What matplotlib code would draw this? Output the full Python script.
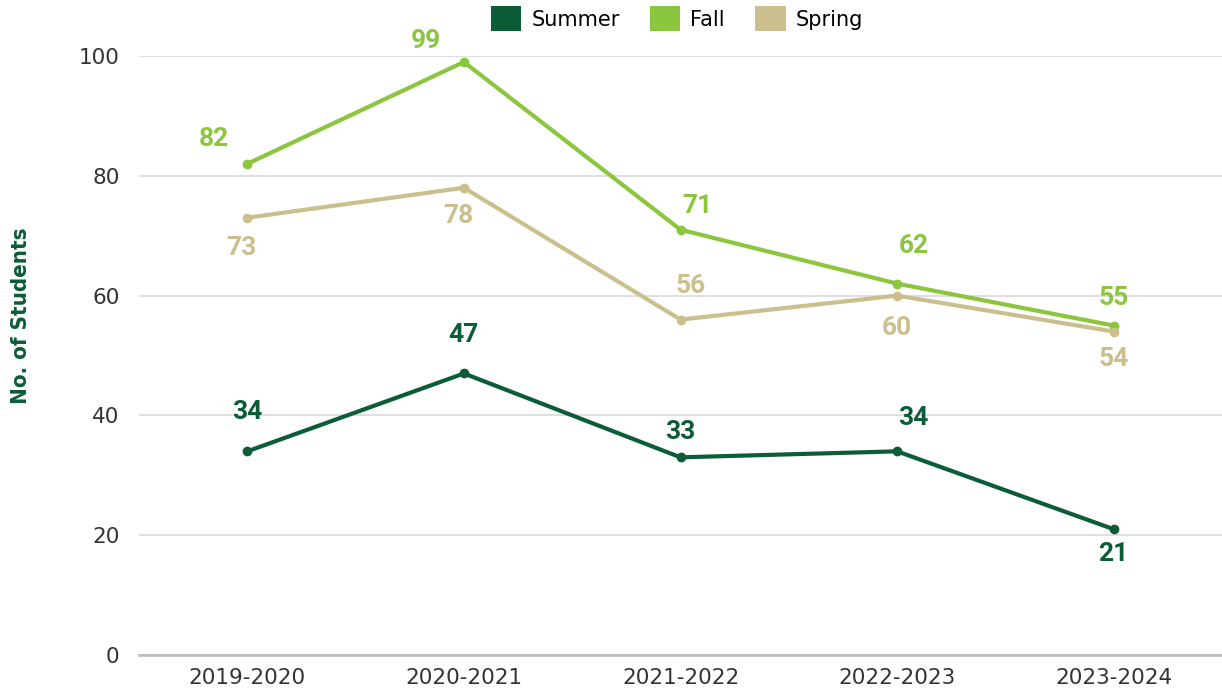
import matplotlib.pyplot as plt
from matplotlib.patches import Patch

# Student counts by academic year and term
years = ["2019-2020", "2020-2021", "2021-2022", "2022-2023", "2023-2024"]
summer = [34, 47, 33, 34, 21]
fall = [82, 99, 71, 62, 55]
spring = [73, 78, 56, 60, 54]

# Colours
C_SUMMER = "#0d5c38"
C_FALL = "#8cc63e"
C_SPRING = "#cbbf8e"

# Value label offsets (points) per series
off_fall = [(-24, 18), (-27, 15), (12, 17), (12, 27), (0, 20)]
off_spring = [(-4, -22), (-4, -20), (7, 24), (0, -23), (0, -20)]
off_summer = [(0, 28), (0, 28), (0, 18), (12, 24), (0, -18)]

plt.rcParams['font.family'] = ['DejaVu Sans']

fig = plt.figure(figsize=(12.22, 6.94), dpi=100)
ax = fig.add_axes([139 / 1222, 1 - 655 / 694, 1 - 139 / 1222, (655 - 56) / 694])

x = list(range(len(years)))
series = [
    ("Summer", summer, C_SUMMER, off_summer),
    ("Fall", fall, C_FALL, off_fall),
    ("Spring", spring, C_SPRING, off_spring),
]
for name, vals, col, offs in series:
    ax.plot(x, vals, color=col, lw=3, marker="o", ms=6, label=name,
            solid_capstyle="round", zorder=3, clip_on=False)
    for xi, v, o in zip(x, vals, offs):
        ax.annotate(str(v), (xi, v), xytext=o, textcoords="offset points",
                    ha="center", va="center", fontsize=19, fontweight="bold",
                    family="Roboto", color=col, zorder=4)

ax.set_xlim(-0.5, 4.5)
ax.set_ylim(0, 100)
ax.set_yticks(range(0, 101, 20))
ax.set_xticks(x)
ax.set_xticklabels(years)
ax.tick_params(axis="both", length=0, labelsize=15.5, colors="#333333")
ax.tick_params(axis="y", pad=14)
ax.tick_params(axis="x", pad=9)
ax.grid(axis="y", color="#d9d9d9", lw=1.2, zorder=0)
ax.grid(axis="x", visible=False)
for s in ["top", "right", "left"]:
    ax.spines[s].set_visible(False)
ax.spines["bottom"].set_color("#bdbdbd")
ax.spines["bottom"].set_linewidth(2)

ax.set_ylabel("No. of Students", fontsize=16, fontweight="bold",
              color=C_SUMMER, family="DejaVu Sans", fontstretch="condensed")
ax.yaxis.set_label_coords(-0.100, 0.567)

# Legend with square patches above the plot
handles = [Patch(facecolor=c, edgecolor="none") for c in (C_SUMMER, C_FALL, C_SPRING)]
fig.legend(handles, ["Summer", "Fall", "Spring"], loc="upper center",
           bbox_to_anchor=(0.554, 1.018), ncol=3, frameon=False, fontsize=15,
           handlelength=1.45, handleheight=1.45, columnspacing=1.45, handletextpad=0.5)

plt.savefig("out.png", dpi=100)
